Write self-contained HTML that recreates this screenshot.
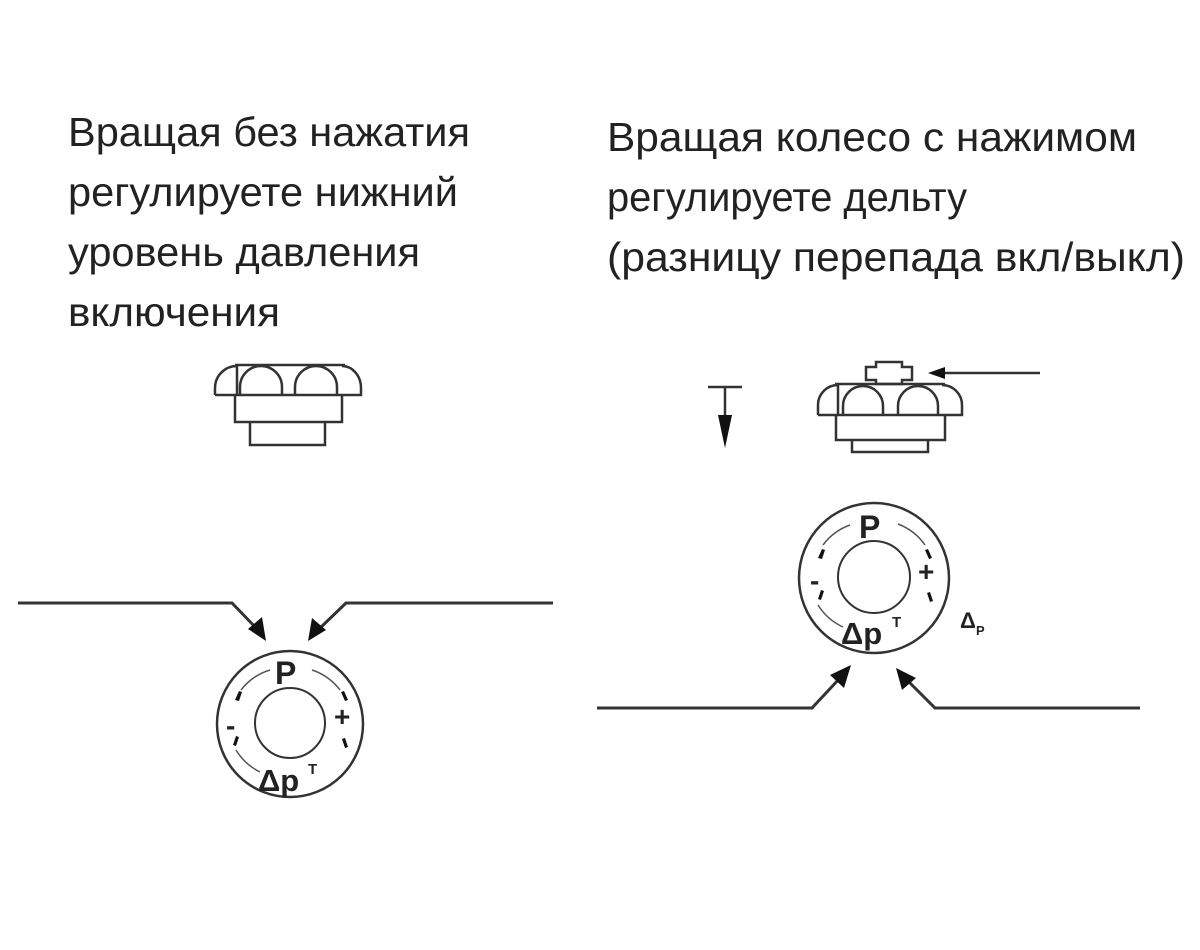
<!DOCTYPE html>
<html><head><meta charset="utf-8"><style>
html,body{margin:0;padding:0;background:#fff;}
svg{display:block;}
text{font-family:"Liberation Sans","DejaVu Sans",sans-serif;fill:#222;}
</style></head><body>
<svg width="1200" height="950" viewBox="0 0 1200 950" xmlns="http://www.w3.org/2000/svg">
<g font-size="41">
<text x="68" y="146" textLength="402" lengthAdjust="spacingAndGlyphs">Вращая без нажатия</text>
<text x="68" y="206" textLength="390" lengthAdjust="spacingAndGlyphs">регулируете нижний</text>
<text x="68" y="266" textLength="352" lengthAdjust="spacingAndGlyphs">уровень давления</text>
<text x="68" y="326" textLength="212" lengthAdjust="spacingAndGlyphs">включения</text>
<text x="607" y="151" textLength="530" lengthAdjust="spacingAndGlyphs">Вращая колесо с нажимом</text>
<text x="607" y="211" textLength="360" lengthAdjust="spacingAndGlyphs">регулируете дельту</text>
<text x="607" y="271" textLength="578" lengthAdjust="spacingAndGlyphs">(разницу перепада вкл/выкл)</text>
</g>

<g fill="none" stroke="#333" stroke-width="2.5">
<!-- Left knob -->
<path d="M235 365 H345"/>
<path d="M215 395 V388 A22 22 0 0 1 237 366 V395"/>
<path d="M240 395 V387 A21 21 0 0 1 282 387 V395"/>
<path d="M295 395 V387 A21 21 0 0 1 337 387 V395"/>
<path d="M342 366 A19 22 0 0 1 361 388 V395 H215"/>
<path d="M235 395 V422 H342 V395"/>
<path d="M250 422 V445 H325 V422"/>
<!-- Right knob -->
<path d="M866 367 H876 V362 H902 V367 H912 V380 H902 V384 H876 V380 H866Z"/>
<path d="M835 384 H945"/>
<path d="M818 415 V405 A20 20 0 0 1 838 385 V415"/>
<path d="M843 415 V406 A20 20 0 0 1 883 406 V415"/>
<path d="M898 415 V406 A20 20 0 0 1 938 406 V415"/>
<path d="M942 385 A20 20 0 0 1 962 405 V415 H818"/>
<path d="M836 415 V440 H945 V415"/>
<path d="M852 440 V452 H928 V440"/>
<path d="M1040 373 H945"/>
<path d="M708 387 H742 M725 387 V420"/>
<!-- circles -->
<circle cx="290" cy="724" r="73"/>
<circle cx="290" cy="723" r="35" stroke-width="2"/>
<circle cx="874" cy="578" r="75"/>
<circle cx="874" cy="577" r="36" stroke-width="2"/>
<!-- lines -->
<path d="M18 603 H232 L258 630" stroke-width="3"/>
<path d="M553 603 H346 L318 630" stroke-width="3"/>
<path d="M597 708 H812 L840 678" stroke-width="3"/>
<path d="M1140 708 H935 L905 678" stroke-width="3"/>
</g>
<g stroke="#555" stroke-width="1.5" fill="none">
<path d="M241 690 A58 58 0 0 1 270 670"/>
<path d="M312 670 A58 58 0 0 1 340 690"/>
<path d="M236 750 A58 58 0 0 0 260 772"/>
<path d="M823 545 A58 58 0 0 1 850 525"/>
<path d="M898 524 A58 58 0 0 1 925 545"/>
<path d="M818 605 A58 58 0 0 0 843 627"/>
</g>
<g fill="#111">
<path d="M945 367 L928 373 L945 379Z"/>
<path d="M718 415 L732 415 L725 448Z"/>
<path d="M266 641 L248 629 L262 617Z"/>
<path d="M308 641 L312 618 L326 630Z"/>
<path d="M851 665 L830 675 L844 688Z"/>
<path d="M896 668 L916 678 L902 690Z"/>
<path d="M235 700 l4 -9 l3 1 l-3 9z M344 691 l4 9 l-3 1 l-4 -9z M233 745 l3 -9 l3 1 l-3 9z M345 738 l3 9 l-3 1 l-3 -9z"/>
<path d="M818 558 l4 -9 l3 1 l-3 9z M928 549 l4 9 l-3 1 l-4 -9z M818 599 l3 -9 l3 1 l-3 9z M930 592 l3 9 l-3 1 l-3 -9z"/>
</g>
<g font-weight="bold" fill="#111">
<text x="275" y="684" font-size="32">P</text>
<text x="226" y="735" font-size="28">-</text>
<text x="334" y="726" font-size="28">+</text>
<text x="258" y="791" font-size="31">Δp</text>
<text x="308" y="774" font-size="15">T</text>
<text x="859" y="538" font-size="32">P</text>
<text x="810" y="590" font-size="28">-</text>
<text x="918" y="581" font-size="28">+</text>
<text x="841" y="644" font-size="31">Δp</text>
<text x="892" y="627" font-size="15">T</text>
<text x="960" y="628" font-size="22">Δ</text>
<text x="976" y="635" font-size="13">P</text>
</g>
</svg>
</body></html>
